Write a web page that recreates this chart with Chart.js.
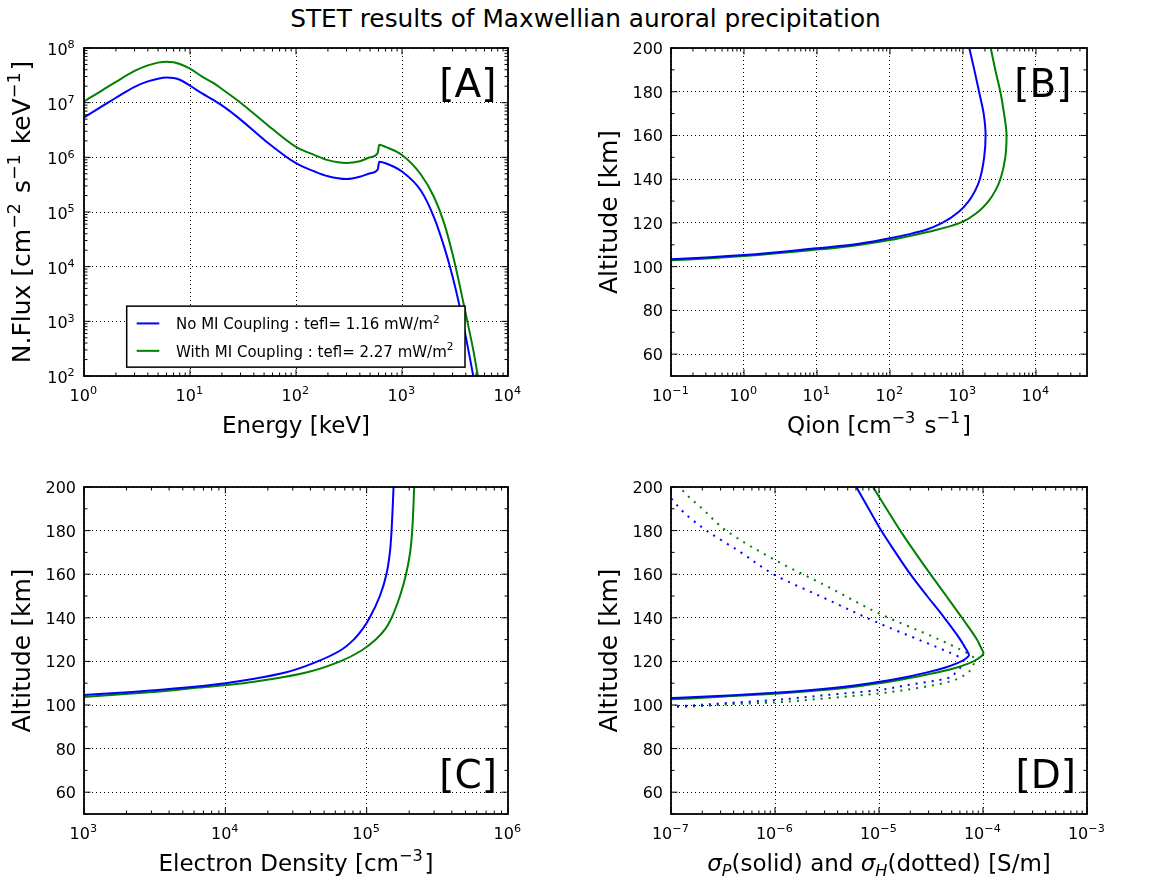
<!DOCTYPE html>
<html>
<head>
<meta charset="utf-8">
<script src="https://cdn.jsdelivr.net/npm/chart.js@4.4.1/dist/chart.umd.min.js"></script>
<style>
  body { margin: 0; background: #fff; }
  #page { position: relative; width: 1171px; height: 880px; overflow: hidden; font-family: "DejaVu Sans", sans-serif; }
  #title { position: absolute; left: 0; top: 7px; width: 1171px; text-align: center; font-size: 24.8px; line-height: 24px; }
  canvas { position: absolute; }
</style>
</head>
<body>
<div id="page">
  <div id="title">STET results of Maxwellian auroral precipitation</div>
  <canvas id="chartA" width="585" height="430" style="left:0;top:30px"></canvas>
  <canvas id="chartB" width="586" height="430" style="left:585px;top:30px"></canvas>
  <canvas id="chartC" width="585" height="420" style="left:0;top:460px"></canvas>
  <canvas id="chartD" width="586" height="420" style="left:585px;top:460px"></canvas>
</div>
<script>
const BLUE = '#0000ff';
const GREEN = '#008000';
const FONT = '"DejaVu Sans", sans-serif';

const seriesNames = ['No MI Coupling : tefl= 1.16 mW/m', 'With MI Coupling : tefl= 2.27 mW/m'];

// [A] differential number flux
const energyKeV = [1, 1.5, 2, 3, 4, 5, 6, 7, 8, 10, 13, 16.6, 20, 30, 50, 100, 150, 200, 300, 400,
  500, 590, 610, 700, 1000, 1500, 2000, 2500, 3000, 3500, 4000, 4700, 5200, 5700];
const fluxNoMI = [5.4e6, 8.7e6, 1.23e7, 1.95e7, 2.45e7, 2.75e7, 2.88e7, 2.82e7, 2.63e7, 2.04e7,
  1.48e7, 1.12e7, 8.9e6, 4.9e6, 2.1e6, 7.8e5, 5.5e5, 4.5e5, 4.0e5, 4.4e5,
  5.1e5, 6.0e5, 8.3e5, 7.8e5, 5.5e5, 2.5e5, 8.1e4, 2.3e4, 6.6e3, 1.86e3, 5.2e2, 1.0e2, 3.2e1, 1e1];
const fluxMI = [1.05e7, 1.7e7, 2.4e7, 3.8e7, 4.8e7, 5.4e7, 5.6e7, 5.5e7, 5.1e7, 4.2e7,
  3.0e7, 2.3e7, 1.78e7, 1.0e7, 4.4e6, 1.55e6, 1.1e6, 8.9e5, 7.9e5, 8.5e5,
  1.0e6, 1.2e6, 1.7e6, 1.55e6, 1.1e6, 4.9e5, 1.9e5, 6.2e4, 1.7e4, 4.6e3, 1.35e3, 3.0e2, 1.0e2, 4e1];

// [B] ionisation rate
const qionAltNoMI = [103.0, 103.4, 105.3, 108.4, 110, 113, 115, 117, 120, 125, 130, 135, 140, 150, 160, 170, 180, 190, 200];
const qionNoMI = [0.05, 0.1, 1, 10, 30, 100, 190, 320, 520, 870, 1200, 1480, 1700, 1950, 2040, 1920, 1660, 1430, 1220];
const qionAltMI = [102.5, 102.9, 104.9, 107.8, 109.5, 112.2, 114.3, 116.5, 120, 125, 130, 135, 140, 150, 160, 170, 180, 190, 200];
const qionMI = [0.05, 0.1, 1, 10, 30, 100, 200, 400, 910, 1600, 2240, 2800, 3250, 3800, 3950, 3650, 3250, 2770, 2400];

// [C] electron density
const neAltNoMI = [104, 104.6, 106, 108, 110, 112, 115, 120, 125, 130, 135, 140, 150, 160, 170, 180, 200];
const neNoMI = [7e2, 1e3, 2.2e3, 5.3e3, 1e4, 1.6e4, 2.7e4, 4.5e4, 6.5e4, 8.1e4, 9.4e4, 1.05e5, 1.24e5, 1.38e5, 1.46e5, 1.5e5, 1.55e5];
const neAltMI = [103, 103.7, 106, 108, 110, 112, 115, 120, 125, 130, 135, 140, 150, 160, 170, 180, 200];
const neMI = [7e2, 1e3, 3.1e3, 6.5e3, 1.35e4, 2.2e4, 3.8e4, 6.5e4, 9.2e4, 1.16e5, 1.36e5, 1.5e5, 1.72e5, 1.9e5, 2.03e5, 2.1e5, 2.17e5];

// [D] Pedersen (solid) and Hall (dotted) conductivity
const sigPAltNoMI = [102.6, 103.2, 104.5, 105.6, 107.8, 110.7, 113, 115.3, 117, 119.1, 121, 122.9, 125, 127, 130, 140, 150, 160, 170, 180, 190, 200];
const sigPNoMI = [5e-8, 1e-7, 4e-7, 1e-6, 3.6e-6, 1.02e-5, 1.9e-5, 3.1e-5, 4.2e-5, 5.6e-5, 6.7e-5, 7.33e-5, 7.0e-5, 6.6e-5, 6.05e-5, 4.25e-5, 2.9e-5, 2.0e-5, 1.44e-5, 1.05e-5, 7.96e-6, 6.05e-6];
const sigPAltMI = [102.2, 102.6, 104, 105.2, 107.5, 110.2, 113, 115, 117, 119, 121, 123.7, 126, 130, 140, 150, 160, 170, 180, 190, 200];
const sigPMI = [5e-8, 1e-7, 3.5e-7, 1e-6, 4e-6, 1.1e-5, 2.3e-5, 3.7e-5, 5.4e-5, 7.2e-5, 8.8e-5, 1.01e-4, 9.64e-5, 8.75e-5, 6.28e-5, 4.44e-5, 3.12e-5, 2.22e-5, 1.6e-5, 1.18e-5, 8.75e-6];
const sigHAltNoMI = [99.2, 99.5, 100.8, 102.3, 104.5, 106.9, 109.2, 112.2, 115, 118, 120.6, 121.5, 124, 130, 137.5, 150, 159.6, 170, 180, 188, 194.8, 200];
const sigHNoMI = [8e-8, 1.2e-7, 3.2e-7, 1e-6, 3e-6, 1e-5, 1.9e-5, 4.5e-5, 5.5e-5, 6.2e-5, 6.5e-5, 6.2e-5, 4.8e-5, 2.4e-5, 1e-5, 2.7e-6, 1e-6, 4.7e-7, 2.2e-7, 1.35e-7, 1e-7, 8e-8];
const sigHAltMI = [99.0, 99.2, 100.3, 101.2, 103, 105.3, 108, 111, 114, 117, 121, 122.5, 125, 130, 142, 155, 166.5, 180, 190, 198.3, 201];
const sigHMI = [8e-8, 1.3e-7, 3.5e-7, 1e-6, 3e-6, 1e-5, 2.5e-5, 5e-5, 6.8e-5, 7.8e-5, 8.3e-5, 7.8e-5, 6.3e-5, 3.8e-5, 1e-5, 3e-6, 1e-6, 3.4e-7, 2e-7, 1.3e-7, 1.2e-7];

// tick values
const energyTicks = [1, 10, 100, 1000, 10000];
const fluxTicks = [1e2, 1e3, 1e4, 1e5, 1e6, 1e7, 1e8];
const qionTicks = [0.1, 1, 10, 100, 1000, 10000];
const neTicks = [1e3, 1e4, 1e5, 1e6];
const sigmaTicks = [1e-7, 1e-6, 1e-5, 1e-4, 1e-3];
const altTicks = [60, 80, 100, 120, 140, 160, 180, 200];
const altMinor = [50, 70, 90, 110, 130, 150, 170, 190];

function pts(xs, ys) {
  return xs.map((x, i) => ({ x: x, y: ys[i] }));
}

// draw text made of [string, mode] parts; mode: '' | 'sup' | 'sub' | 'it' | 'itsub'
function drawRich(ctx, parts, x, y, size, align) {
  let w = 0;
  const items = parts.map(([t, m]) => {
    const small = m === 'sup' || m === 'sub' || m === 'itsub';
    const italic = m === 'it' || m === 'itsub';
    const font = (italic ? 'italic ' : '') + (small ? size * 0.7 : size) + 'px ' + FONT;
    ctx.font = font;
    const dy = m === 'sup' ? -size * 0.42 : (m === 'sub' || m === 'itsub') ? size * 0.22 : 0;
    const it = { t, font, dx: w, dy };
    w += ctx.measureText(t).width + (m === 'sup' ? size * 0.08 : 0);
    return it;
  });
  const x0 = align === 'center' ? x - w / 2 : align === 'right' ? x - w : x;
  ctx.textAlign = 'left';
  ctx.textBaseline = 'alphabetic';
  items.forEach(it => { ctx.font = it.font; ctx.fillText(it.t, x0 + it.dx, y + it.dy); });
}

function logMinor(min, max) {
  const out = [];
  for (let d = Math.floor(Math.log10(min)); d <= Math.ceil(Math.log10(max)); d++) {
    for (let k = 2; k <= 9; k++) {
      const v = k * Math.pow(10, d);
      if (v > min * 1.0001 && v < max * 0.9999) out.push(v);
    }
  }
  return out;
}

function tickParts(v, log) {
  if (!log) return [[String(v), '']];
  const e = Math.round(Math.log10(v));
  return [['10', ''], [String(e).replace('-', '\u2212'), 'sup']];
}

const axesDeco = {
  id: 'axesDeco',
  afterDraw(chart, args, o) {
    const { ctx, chartArea: a } = chart;
    const xs = chart.scales.x, ys = chart.scales.y;
    const w = a.right - a.left, h = a.bottom - a.top;
    ctx.save();
    ctx.fillStyle = '#000';
    ctx.strokeStyle = '#000';

    if (o.legend) {
      const x0 = a.left + 0.1007 * w, x1 = a.left + 0.8986 * w;
      const y0 = a.top + 0.787 * h, y1 = a.top + 0.973 * h;
      ctx.fillStyle = '#fff';
      ctx.fillRect(x0, y0, x1 - x0, y1 - y0);
      ctx.lineWidth = 1.5;
      ctx.strokeRect(x0, y0, x1 - x0, y1 - y0);
      chart.data.datasets.forEach((ds, i) => {
        const ly = y0 + 17.3 + i * 27.4;
        ctx.strokeStyle = ds.borderColor;
        ctx.lineWidth = ds.borderWidth;
        ctx.beginPath(); ctx.moveTo(x0 + 10, ly); ctx.lineTo(x0 + 32.6, ly); ctx.stroke();
        ctx.fillStyle = '#000';
        drawRich(ctx, [[ds.label, ''], ['2', 'sup']], x0 + 49.3, ly + 5.7, 15, 'left');
      });
      ctx.strokeStyle = '#000';
    }

    // ticks (inward, all four sides)
    ctx.lineWidth = 1;
    const mark = (s, v, len) => {
      const p = s.getPixelForValue(v);
      ctx.beginPath();
      if (s.isHorizontal()) {
        ctx.moveTo(p, a.bottom); ctx.lineTo(p, a.bottom - len);
        ctx.moveTo(p, a.top); ctx.lineTo(p, a.top + len);
      } else {
        ctx.moveTo(a.left, p); ctx.lineTo(a.left + len, p);
        ctx.moveTo(a.right, p); ctx.lineTo(a.right - len, p);
      }
      ctx.stroke();
    };
    xs.ticks.forEach(t => mark(xs, t.value, 6.5));
    ys.ticks.forEach(t => mark(ys, t.value, 6.5));
    logMinor(xs.min, xs.max).forEach(v => mark(xs, v, 3.5));
    (o.yLog ? logMinor(ys.min, ys.max) : altMinor).forEach(v => mark(ys, v, 3.5));

    // frame
    ctx.lineWidth = 1.8;
    ctx.strokeRect(a.left, a.top, w, h);

    // tick labels
    ctx.fillStyle = '#000';
    xs.ticks.forEach(t => {
      drawRich(ctx, tickParts(t.value, true), xs.getPixelForValue(t.value), a.bottom + 25, 16, 'center');
    });
    ys.ticks.forEach(t => {
      drawRich(ctx, tickParts(t.value, o.yLog), a.left - 8, ys.getPixelForValue(t.value) + (o.yLog ? 7 : 6), 16, 'right');
    });

    // axis titles
    drawRich(ctx, o.xTitle, (a.left + a.right) / 2, a.bottom + 57, 23, 'center');
    ctx.save();
    ctx.translate(a.left - 54, (a.top + a.bottom) / 2);
    ctx.rotate(-Math.PI / 2);
    drawRich(ctx, o.yTitle, 0, 0, 25, 'center');
    ctx.restore();

    // panel tag
    ctx.font = '39px ' + FONT;
    ctx.textAlign = 'left';
    ctx.textBaseline = 'alphabetic';
    ctx.fillText(o.tag, a.left + o.tagAt[0] * w, a.top + o.tagAt[1] * h);
    ctx.restore();
  }
};

function line(label, data, color, dash) {
  return {
    label: label, data: data, borderColor: color, borderWidth: 2,
    borderDash: dash || [], pointRadius: 0, fill: false,
    cubicInterpolationMode: 'monotone'
  };
}

function logAxis(min, max, ticks) {
  return {
    type: 'logarithmic', min: min, max: max,
    afterBuildTicks: s => { s.ticks = ticks.map(v => ({ value: v })); },
    ticks: { display: false },
    grid: { color: '#000', lineWidth: 1, drawTicks: false },
    border: { display: false, dash: [1, 3] }
  };
}

function altAxis() {
  return {
    type: 'linear', min: 50, max: 200,
    afterBuildTicks: s => { s.ticks = altTicks.map(v => ({ value: v })); },
    ticks: { display: false },
    grid: { color: '#000', lineWidth: 1, drawTicks: false },
    border: { display: false, dash: [1, 3] }
  };
}

function panel(id, pad, datasets, xAxis, yAxis, indexAxis, deco) {
  return new Chart(document.getElementById(id), {
    type: 'line',
    data: { datasets: datasets },
    options: {
      responsive: false,
      animation: false,
      indexAxis: indexAxis,
      layout: { padding: pad },
      scales: { x: xAxis, y: yAxis },
      plugins: { legend: { display: false }, tooltip: { enabled: false }, axesDeco: deco }
    },
    plugins: [axesDeco]
  });
}

const altTitle = [['Altitude [km]', '']];

panel('chartA', { left: 84, right: 77, top: 18, bottom: 84 },
  [line(seriesNames[0], pts(energyKeV, fluxNoMI), BLUE), line(seriesNames[1], pts(energyKeV, fluxMI), GREEN)],
  logAxis(1, 1e4, energyTicks), logAxis(1e2, 1e8, fluxTicks), 'x',
  {
    yLog: true, legend: true, tag: '[A]', tagAt: [0.838, 0.148],
    xTitle: [['Energy [keV]', '']],
    yTitle: [['N.Flux [cm', ''], ['\u22122', 'sup'], [' s', ''], ['\u22121', 'sup'], [' keV', ''], ['\u22121', 'sup'], [']', '']]
  });

panel('chartB', { left: 86, right: 84, top: 18, bottom: 84 },
  [line(seriesNames[0], pts(qionNoMI, qionAltNoMI), BLUE), line(seriesNames[1], pts(qionMI, qionAltMI), GREEN)],
  logAxis(0.1, 5e4, qionTicks), altAxis(), 'y',
  {
    yLog: false, tag: '[B]', tagAt: [0.825, 0.148],
    xTitle: [['Qion [cm', ''], ['\u22123', 'sup'], [' s', ''], ['\u22121', 'sup'], [']', '']],
    yTitle: altTitle
  });

panel('chartC', { left: 84, right: 77, top: 27, bottom: 66 },
  [line(seriesNames[0], pts(neNoMI, neAltNoMI), BLUE), line(seriesNames[1], pts(neMI, neAltMI), GREEN)],
  logAxis(1e3, 1e6, neTicks), altAxis(), 'y',
  {
    yLog: false, tag: '[C]', tagAt: [0.838, 0.92],
    xTitle: [['Electron Density [cm', ''], ['\u22123', 'sup'], [']', '']],
    yTitle: altTitle
  });

panel('chartD', { left: 86, right: 84, top: 27, bottom: 66 },
  [
    line('sigmaP ' + seriesNames[0], pts(sigPNoMI, sigPAltNoMI), BLUE),
    line('sigmaP ' + seriesNames[1], pts(sigPMI, sigPAltMI), GREEN),
    line('sigmaH ' + seriesNames[0], pts(sigHNoMI, sigHAltNoMI), BLUE, [2, 6]),
    line('sigmaH ' + seriesNames[1], pts(sigHMI, sigHAltMI), GREEN, [2, 6])
  ],
  logAxis(1e-7, 1e-3, sigmaTicks), altAxis(), 'y',
  {
    yLog: false, tag: '[D]', tagAt: [0.828, 0.92],
    xTitle: [['\u03c3', 'it'], ['P', 'itsub'], ['(solid) and ', ''], ['\u03c3', 'it'], ['H', 'itsub'], ['(dotted) [S/m]', '']],
    yTitle: altTitle
  });
</script>
</body>
</html>
